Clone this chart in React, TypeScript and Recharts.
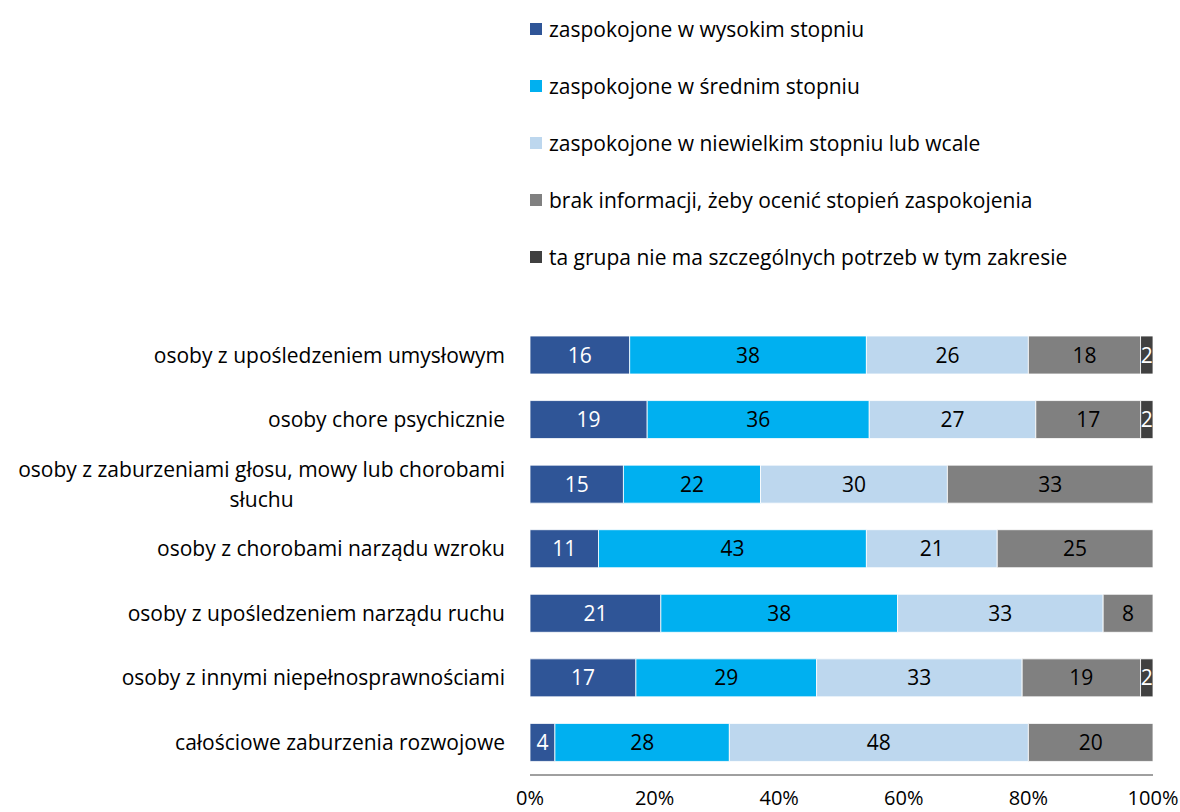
import React from "react";
import { BarChart, Bar, XAxis, YAxis, LabelList, Legend } from "recharts";

const categories = [
  "osoby z upośledzeniem umysłowym",
  "osoby chore psychicznie",
  "osoby z zaburzeniami głosu, mowy lub chorobami|słuchu",
  "osoby z chorobami narządu wzroku",
  "osoby z upośledzeniem narządu ruchu",
  "osoby z innymi niepełnosprawnościami",
  "całościowe zaburzenia rozwojowe",
];
const high = [16, 19, 15, 11, 21, 17, 4];
const medium = [38, 36, 22, 43, 38, 29, 28];
const low = [26, 27, 30, 21, 33, 33, 48];
const noInfo = [18, 17, 33, 25, 8, 19, 20];
const noNeeds = [2, 2, 0, 0, 0, 2, 0];

const seriesNames = [
  "zaspokojone w wysokim stopniu",
  "zaspokojone w średnim stopniu",
  "zaspokojone w niewielkim stopniu lub wcale",
  "brak informacji, żeby ocenić stopień zaspokojenia",
  "ta grupa nie ma szczególnych potrzeb w tym zakresie",
];
const seriesKeys = ["high", "medium", "low", "noInfo", "noNeeds"];
const colors = ["#2F5597", "#00B0F0", "#BDD7EE", "#808080", "#404040"];
const labelColors = ["#ffffff", "#000000", "#000000", "#000000", "#ffffff"];
const xTicks = [0, 0.2, 0.4, 0.6, 0.8, 1];

const FONT = "'Open Sans', sans-serif";
const FS = 21;

const data = categories.map((c, i) => ({
  name: c,
  high: high[i],
  medium: medium[i],
  low: low[i],
  noInfo: noInfo[i],
  noNeeds: noNeeds[i],
}));

function measure(text: string): number {
  const c = document.createElement("canvas").getContext("2d");
  if (!c) return text.length * 10;
  c.font = `${FS}px 'Open Sans'`;
  return c.measureText(text).width;
}

const YTick = (props: any) => {
  const { x, y, payload } = props;
  const lines: string[] = String(payload.value).split("|");
  const right = x - 17;
  if (lines.length === 1) {
    return (
      <text x={right} y={y} dy="0.35em" textAnchor="end" fontFamily={FONT} fontSize={FS} fill="#000">
        {lines[0]}
      </text>
    );
  }
  const w = Math.max(...lines.map(measure));
  const cx = right - w / 2;
  const lh = 30;
  const start = y - ((lines.length - 1) * lh) / 2;
  return (
    <text textAnchor="middle" fontFamily={FONT} fontSize={FS} fill="#000">
      {lines.map((l, i) => (
        <tspan key={i} x={cx} y={start + i * lh} dy="0.35em">
          {l}
        </tspan>
      ))}
    </text>
  );
};

const LegendContent = () => (
  <div style={{ position: "absolute", left: 530, top: 0, fontFamily: FONT, fontSize: FS }}>
    {seriesNames.map((n, i) => (
      <div key={n} style={{ display: "flex", alignItems: "center", height: 57 }}>
        <div style={{ width: 12, height: 12, background: colors[i], marginRight: 7 }} />
        <span style={{ color: "#000", whiteSpace: "nowrap" }}>{n}</span>
      </div>
    ))}
  </div>
);

const makeLabel = (idx: number) => (props: any) => {
  const { x, y, width, height, value } = props;
  if (!value) return null;
  return (
    <text
      x={x + width / 2}
      y={y + height / 2}
      dy="0.36em"
      textAnchor="middle"
      fontFamily={FONT}
      fontSize={FS}
      fill={labelColors[idx]}
    >
      {value}
    </text>
  );
};

export default function App() {
  return (
    <div style={{ position: "absolute", left: 0, top: 0, width: 1180, height: 812, background: "#fff" }}>
      <BarChart
        width={1180}
        height={812}
        data={data}
        layout="vertical"
        stackOffset="expand"
        margin={{ top: 323, right: 27, bottom: 7, left: 0 }}
        barSize={38}
      >
        <XAxis
          type="number"
          domain={[0, 1]}
          ticks={xTicks}
          tickFormatter={(v: number) => `${Math.round(v * 100)}%`}
          axisLine={{ stroke: "#404040", strokeWidth: 1 }}
          tickLine={false}
          height={30}
          tick={{ fontFamily: FONT, fontSize: 20, fill: "#000" }}
          tickMargin={10}
          interval={0}
        />
        <YAxis
          type="category"
          dataKey="name"
          width={530}
          axisLine={false}
          tickLine={false}
          tick={<YTick />}
          interval={0}
        />
        <Legend content={<LegendContent />} verticalAlign="top" wrapperStyle={{ top: 0, left: 0 }} />
        {seriesKeys.map((k, i) => (
          <Bar
            key={k}
            dataKey={k}
            name={seriesNames[i]}
            stackId="a"
            fill={colors[i]}
            stroke="#ffffff"
            strokeWidth={0.8}
            isAnimationActive={false}
          >
            <LabelList dataKey={k} content={makeLabel(i)} />
          </Bar>
        ))}
      </BarChart>
    </div>
  );
}
